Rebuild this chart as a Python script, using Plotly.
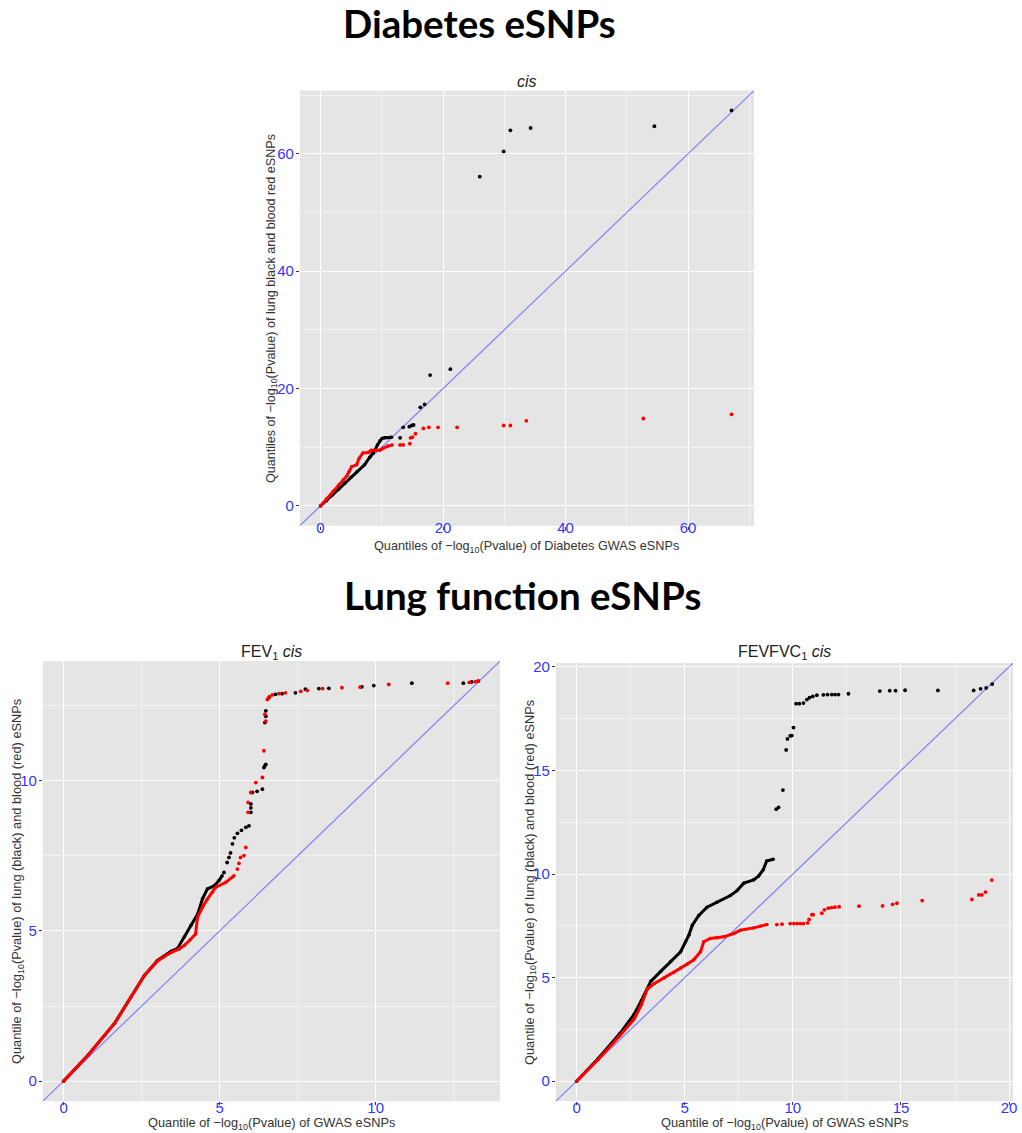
import plotly.graph_objects as go

# ---------------- data ----------------
# Diabetes (top panel)
dia_lung_dense_x = [0, 1, 2, 3, 4, 5, 5.9, 7.2, 8.05, 8.6, 8.9, 9.3, 9.7, 10.05, 10.5, 11.0, 11.6]
dia_lung_dense_y = [0, 0.9, 1.9, 2.9, 3.9, 4.9, 5.8, 7.0, 8.3, 9.0, 9.5, 10.4, 11.1, 11.5, 11.6, 11.6, 11.7]
dia_lung_tail_x = [13.0, 13.5, 14.5, 14.9, 15.2, 16.3, 17.0, 17.9, 21.2, 26.0, 29.9, 31.0, 34.3, 54.5, 67.1]
dia_lung_tail_y = [11.6, 13.4, 13.5, 13.7, 13.8, 16.8, 17.3, 22.3, 23.3, 56.1, 60.4, 64.0, 64.4, 64.7, 67.4]
dia_blood_dense_x = [0, 1.0, 2.1, 3.0, 3.7, 4.3, 4.7, 5.1, 5.9, 6.3, 6.9, 7.8, 8.3, 9.0, 9.7, 10.2, 11.0, 11.7]
dia_blood_dense_y = [0, 1.2, 2.5, 3.6, 4.4, 5.1, 5.9, 6.7, 7.0, 8.1, 9.0, 9.1, 9.5, 9.5, 9.5, 9.8, 10.2, 10.4]
dia_blood_tail_x = [13.0, 13.5, 14.6, 14.7, 15.0, 15.5, 16.8, 17.7, 19.2, 22.3, 29.9, 31.0, 33.6, 52.7, 67.1]
dia_blood_tail_y = [10.4, 10.4, 10.6, 11.6, 11.7, 12.3, 13.2, 13.4, 13.4, 13.4, 13.7, 13.7, 14.5, 14.9, 15.6]

# FEV1 (bottom left)
fev_lung_dense_x = [0, 0.78, 1.63, 2.16, 2.59, 3.01, 3.44, 3.65, 3.87, 4.08, 4.30, 4.45, 4.61, 4.82, 4.98, 5.08]
fev_lung_dense_y = [0, 0.86, 1.92, 2.80, 3.52, 4.02, 4.32, 4.42, 4.80, 5.18, 5.57, 6.07, 6.40, 6.50, 6.68, 6.84]
fev_lung_tail_x = [5.14, 5.24, 5.30, 5.35, 5.41, 5.47, 5.57, 5.70, 5.84, 5.94, 6.0, 6.0, 6.0, 6.05, 6.2, 6.37,
                   6.42, 6.45, 6.48, 6.45, 6.48, 6.48, 6.58, 6.79, 7.0, 7.43, 7.75, 8.18, 8.5, 9.56, 9.94,
                   11.16, 12.81, 13.08, 13.29]
fev_lung_tail_y = [6.95, 7.28, 7.45, 7.60, 7.90, 8.10, 8.25, 8.35, 8.45, 8.50, 8.95, 9.10, 9.23, 9.61, 9.65, 9.72,
                   10.44, 10.50, 10.55, 11.94, 12.15, 12.33, 12.77, 12.88, 12.90, 12.93, 13.05, 13.07, 13.08, 13.13, 13.17,
                   13.25, 13.25, 13.29, 13.32]
fev_blood_dense_x = [0, 0.78, 1.63, 2.16, 2.59, 3.01, 3.44, 3.70, 3.87, 4.05, 4.23, 4.29, 4.45, 4.60, 4.77, 4.87, 5.20, 5.46]
fev_blood_dense_y = [0, 0.86, 1.92, 2.80, 3.52, 4.00, 4.28, 4.40, 4.52, 4.70, 4.90, 5.45, 5.79, 6.05, 6.29, 6.45, 6.62, 6.84]
fev_blood_tail_x = [5.57, 5.62, 5.67, 5.78, 5.84, 5.91, 5.91, 6.0, 6.16, 6.37, 6.42, 6.48, 6.45, 6.53, 6.6, 6.69,
                    6.9, 7.11, 7.6, 7.81, 8.3, 8.92, 9.5, 10.42, 12.31, 13.0, 13.2, 13.29]
fev_blood_tail_y = [7.06, 7.25, 7.45, 7.51, 7.78, 8.95, 9.28, 9.61, 9.94, 10.11, 11.0, 11.99, 12.22, 12.71, 12.8, 12.86,
                    12.90, 12.93, 12.98, 13.01, 13.07, 13.10, 13.12, 13.21, 13.25, 13.28, 13.30, 13.32]

# FEVFVC1 (bottom right)
fvc_lung_dense_x = [0, 1.0, 2.0, 2.66, 3.0, 3.27, 3.43, 3.89, 4.35, 4.81, 5.04, 5.19, 5.35, 5.65, 6.03, 6.49,
                    7.11, 7.42, 7.73, 8.19, 8.42, 8.63, 8.79, 9.09]
fvc_lung_dense_y = [0, 1.1, 2.3, 3.23, 3.9, 4.45, 4.82, 5.30, 5.78, 6.25, 6.73, 7.05, 7.53, 8.0, 8.40, 8.64,
                    8.96, 9.20, 9.56, 9.72, 9.91, 10.21, 10.63, 10.71]
fvc_lung_tail_x = [9.23, 9.34, 9.54, 9.69, 9.75, 9.88, 9.95, 10.03, 10.15, 10.3, 10.49, 10.65, 10.77, 10.92,
                   11.11, 11.41, 11.6, 11.8, 11.95, 12.11, 12.57, 14.02, 14.48, 14.75, 15.19, 16.71, 18.36,
                   18.68, 18.94, 19.22]
fvc_lung_tail_y = [13.13, 13.22, 14.05, 15.99, 16.52, 16.67, 16.68, 17.07, 18.22, 18.22, 18.25, 18.42, 18.51, 18.57,
                   18.63, 18.65, 18.66, 18.66, 18.66, 18.66, 18.70, 18.83, 18.85, 18.85, 18.87, 18.86, 18.86,
                   18.94, 18.98, 19.17]
fvc_blood_dense_x = [0, 1.0, 2.0, 2.66, 3.0, 3.27, 3.6, 4.05, 4.5, 4.81, 5.1, 5.42, 5.73, 5.88, 6.18, 6.5,
                     6.80, 7.27, 7.57, 8.19, 8.49, 8.80]
fvc_blood_dense_y = [0, 1.05, 2.2, 3.0, 3.7, 4.45, 4.72, 4.98, 5.25, 5.46, 5.65, 5.86, 6.25, 6.73, 6.89, 6.93,
                     6.97, 7.13, 7.29, 7.40, 7.48, 7.56]
fvc_blood_tail_x = [9.26, 9.5, 9.88, 10.05, 10.2, 10.35, 10.49, 10.69, 10.75, 10.88, 10.94, 11.34, 11.46, 11.64,
                    11.8, 11.95, 12.14, 13.06, 14.15, 14.61, 14.81, 15.98, 18.28, 18.60, 18.74, 18.91, 19.20]
fvc_blood_tail_y = [7.56, 7.58, 7.61, 7.61, 7.61, 7.61, 7.61, 7.64, 7.81, 8.04, 8.04, 8.11, 8.27, 8.35,
                    8.38, 8.40, 8.42, 8.45, 8.46, 8.54, 8.59, 8.72, 8.77, 8.99, 8.99, 9.13, 9.71]

panel_titles = ["<i>cis</i>", "FEV<sub>1</sub> <i>cis</i>", "FEVFVC<sub>1</sub> <i>cis</i>"]
x_titles = ["Quantiles of \u2212log<sub>10</sub>(Pvalue) of Diabetes GWAS eSNPs",
            "Quantile of \u2212log<sub>10</sub>(Pvalue) of GWAS eSNPs",
            "Quantile of \u2212log<sub>10</sub>(Pvalue) of GWAS eSNPs"]
y_titles = ["Quantiles of \u2212log<sub>10</sub>(Pvalue) of lung black and blood red eSNPs",
            "Quantile of \u2212log<sub>10</sub>(Pvalue) of lung (black) and blood (red) eSNPs",
            "Quantile of \u2212log<sub>10</sub>(Pvalue) of lung (black) and blood (red) eSNPs"]
major_ticks = [20, 5, 5]
section_titles = ["Diabetes eSNPs", "Lung function eSNPs"]

# ---------------- figure ----------------
W, H = 1022, 1133
BG = "#E5E5E5"
TICK_BLUE = "#3434ff"
AX_FONT = "Liberation Sans, Arial, sans-serif"

fig = go.Figure()

panels = [
    dict(ax="", lung=(dia_lung_dense_x, dia_lung_dense_y, dia_lung_tail_x, dia_lung_tail_y),
         blood=(dia_blood_dense_x, dia_blood_dense_y, dia_blood_tail_x, dia_blood_tail_y),
         px=(301, 757), py=(86, 523), xt_size=12.7, yt_size=12.6, ytx=273, xty=544, tty=77, xso=-15),
    dict(ax="2", lung=(fev_lung_dense_x, fev_lung_dense_y, fev_lung_tail_x, fev_lung_tail_y),
         blood=(fev_blood_dense_x, fev_blood_dense_y, fev_blood_tail_x, fev_blood_tail_y),
         px=(43, 502), py=(659, 1101), xt_size=12.8, yt_size=12.8, ytx=17, xty=1123, tty=650, xso=-10),
    dict(ax="3", lung=(fvc_lung_dense_x, fvc_lung_dense_y, fvc_lung_tail_x, fvc_lung_tail_y),
         blood=(fvc_blood_dense_x, fvc_blood_dense_y, fvc_blood_tail_x, fvc_blood_tail_y),
         px=(558, 1017), py=(661, 1101), xt_size=12.8, yt_size=12.8, ytx=532, xty=1123, tty=650, xso=-10),
]

annotations = []
for i, p in enumerate(panels):
    xa, ya = "x" + p["ax"], "y" + p["ax"]
    allv = p["lung"][0] + p["lung"][1] + p["lung"][2] + p["lung"][3] + \
        p["blood"][0] + p["blood"][1] + p["blood"][2] + p["blood"][3]
    vmax = max(allv)
    vmin = min(allv)
    pad = 0.05 * (vmax - vmin)
    lo, hi = vmin - pad, vmax + pad

    # diagonal reference line y = x across the full scale
    fig.add_trace(go.Scatter(x=[lo, hi], y=[lo, hi], mode="lines",
                             line=dict(color="rgba(60,60,255,0.6)", width=1.2),
                             xaxis=xa, yaxis=ya, showlegend=False, hoverinfo="skip"))
    for (dx, dy, tx, ty), col in ((p["lung"], "black"), (p["blood"], "#ff0000")):
        fig.add_trace(go.Scatter(x=dx, y=dy, mode="lines+markers",
                                 line=dict(color=col, width=3),
                                 marker=dict(color=col, size=3.5),
                                 xaxis=xa, yaxis=ya, showlegend=False))
        fig.add_trace(go.Scatter(x=tx, y=ty, mode="markers",
                                 marker=dict(color=col, size=3.8),
                                 xaxis=xa, yaxis=ya, showlegend=False))

    x0, x1 = p["px"]
    y0, y1 = p["py"]
    xd = [x0 / W, x1 / W]
    yd = [1 - y1 / H, 1 - y0 / H]
    dt = major_ticks[i]
    axis_common = dict(range=[lo, hi], dtick=dt, tick0=0, showgrid=True, gridcolor="white", gridwidth=1.1,
                       zeroline=False, showline=False, ticks="outside", ticklen=3, tickwidth=1,
                       tickcolor="#333333", tickfont=dict(color=TICK_BLUE, size=15, family=AX_FONT),
                       minor=dict(dtick=dt / 2, tick0=0, showgrid=True, gridcolor="#F2F2F2", gridwidth=0.6,
                                  ticks=""),
                       fixedrange=True)
    fig.layout["xaxis" + p["ax"]] = dict(domain=xd, anchor="y" + p["ax"], ticklabelstandoff=p["xso"], **axis_common)
    fig.layout["yaxis" + p["ax"]] = dict(domain=yd, anchor="x" + p["ax"], ticklabelstandoff=-1, **axis_common)

    cx = (x0 + x1) / 2
    cy = (y0 + y1) / 2
    # panel title
    annotations.append(dict(text=panel_titles[i], x=cx / W, y=1 - p["tty"] / H, xref="paper", yref="paper",
                            xanchor="center", yanchor="middle", showarrow=False,
                            font=dict(size=16, color="#222222", family=AX_FONT)))
    # x title
    annotations.append(dict(text=x_titles[i], x=cx / W, y=1 - p["xty"] / H, xref="paper", yref="paper",
                            xanchor="center", yanchor="middle", showarrow=False,
                            font=dict(size=p["xt_size"], color="#333333", family=AX_FONT)))
    # y title
    annotations.append(dict(text=y_titles[i], x=p["ytx"] / W, y=1 - cy / H, xref="paper", yref="paper",
                            xanchor="center", yanchor="middle", showarrow=False, textangle=-90,
                            font=dict(size=p["yt_size"], color="#333333", family=AX_FONT)))

# section headings
annotations.append(dict(text="<b>" + section_titles[0] + "</b>", x=481 / W, y=1 - 18 / H, xref="paper",
                        yref="paper", xanchor="center", yanchor="middle", showarrow=False,
                        font=dict(size=38.5, color="black", family="Lato, Open Sans, sans-serif")))
annotations.append(dict(text="<b>" + section_titles[1] + "</b>", x=525 / W, y=1 - 593 / H, xref="paper",
                        yref="paper", xanchor="center", yanchor="middle", showarrow=False,
                        font=dict(size=38.5, color="black", family="Lato, Open Sans, sans-serif")))

fig.update_layout(width=W, height=H, margin=dict(l=0, r=0, t=0, b=0),
                  paper_bgcolor="white", plot_bgcolor=BG, annotations=annotations,
                  showlegend=False, hovermode=False)

fig.write_html("out.html", config={"displayModeBar": False})
